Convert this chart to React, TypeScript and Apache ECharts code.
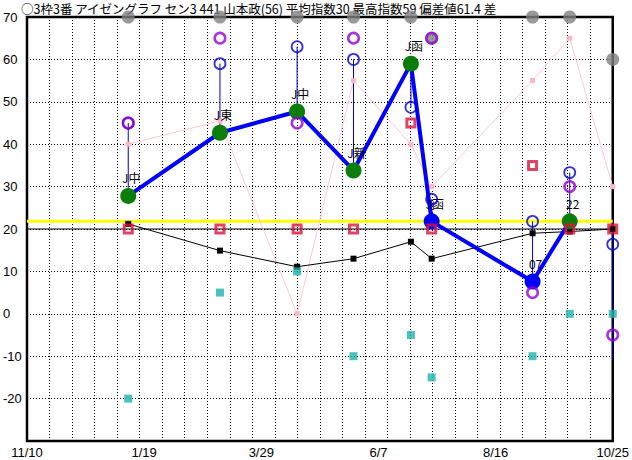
import React, { useEffect, useRef } from "react";
import * as echarts from "echarts";

const titleText = "○3枠3番 アイゼングラフ セン3 441 山本政(56) 平均指数30 最高指数59 偏差値61.4 差";
const dateTicks = ["11/10", "1/19", "3/29", "6/7", "8/16", "10/25"];
const tickStepDays = 70;
const totalDays = 350;
const gridDivisions = 26;
const yTicks = [-30, -20, -10, 0, 10, 20, 30, 40, 50, 60, 70];

const raceDays = [60.5, 115.3, 161.4, 195.1, 229.4, 241.8, 302.1, 324.3, 350];
const mainIndex: (number | null)[] = [27.8, 42.7, 47.7, 33.8, 59, 21.8, 7.6, 21.8, null];
const mainKinds = ["g", "g", "g", "g", "g", "b", "b", "g", ""];
const mainLabels = ["J中", "J東", "J中", "J新", "J函", "J函", "07", "22", ""];
const stemLow = [27.8, 42.7, 47.7, 33.8, 48.7, 21.8, 7.6, 21.8, -11];
const stemHigh = [45, 59, 63, 60, 59, 27, 21.8, 33.3, 20];
const blueRing = [45, 59, 63, 60, 48.7, 27, 21.8, 33.3, 16.4];
const purpleRing: (number | null)[] = [45, 65, 45, 65, null, 65, 5, 30, -5];
const grayDot = [70, 70, 70, 70, 70, 65, 70, 70, 60];
const pinkLine = [40, 45.5, 0, 55, 40, 30, 55, 65, 30];
const blackLine = [21.2, 14.9, 11.1, 13, 17, 13, 19, 19.4, 20];
const redSquare = [20, 20, 20, 20, 45, 20, 35, 20, 20];
const tealSquare = [-20, 5, 10, -10, -5, -15, -10, 0, 0];
const yellowRef = 21.8;
const baseRef = 20;

const pts = (vals: (number | null)[]) =>
  raceDays.map((d, i) => [d, vals[i] == null ? "-" : vals[i]]);

export default function App() {
  const ref = useRef<HTMLDivElement>(null);
  useEffect(() => {
    if (!ref.current) return;
    const chart = echarts.init(ref.current, undefined, { renderer: "svg" });
    const dotted = { color: "#000", width: 1, type: [1, 2] as any };
    chart.setOption({
      animation: false,
      backgroundColor: "#fff",
      title: {
        text: titleText,
        left: 21,
        top: 1,
        padding: 0,
        textStyle: {
          fontSize: 12.5,
          lineHeight: 14,
          fontWeight: "normal",
          color: "#000",
          fontFamily: "Noto Sans CJK JP",
        },
      },
      grid: {
        left: 26,
        right: 15,
        top: 17,
        bottom: 19,
        show: true,
        borderColor: "#000",
        borderWidth: 2.5,
        backgroundColor: "transparent",
      },
      xAxis: [
        {
          type: "value",
          min: 0,
          max: totalDays,
          interval: totalDays / gridDivisions,
          axisLine: { show: false },
          axisTick: { show: false },
          axisLabel: { show: false },
          splitLine: { show: true, lineStyle: dotted },
        },
        {
          type: "value",
          position: "bottom",
          min: 0,
          max: totalDays,
          interval: tickStepDays,
          axisLine: { show: false },
          axisTick: { show: false },
          splitLine: { show: false },
          axisLabel: {
            margin: 5,
            fontSize: 13,
            color: "#000",
            fontFamily: "Liberation Sans",
            formatter: (v: number) => dateTicks[Math.round(v / tickStepDays)] ?? "",
          },
        },
      ],
      yAxis: {
        type: "value",
        min: yTicks[0],
        max: yTicks[yTicks.length - 1],
        interval: 10,
        axisLine: { show: false },
        axisTick: { show: false },
        axisLabel: {
          align: "left",
          margin: 24,
          fontSize: 13,
          color: "#000",
          fontFamily: "Liberation Sans",
          formatter: (v: number) => (v === yTicks[0] ? "" : String(v)),
        },
        splitLine: { show: true, lineStyle: dotted },
      },
      series: [
        {
          type: "line",
          z: 1,
          silent: true,
          symbol: "none",
          data: [[0, baseRef], [totalDays, baseRef]],
          lineStyle: { color: "#000", width: 1 },
        },
        {
          type: "line",
          z: 2,
          silent: true,
          symbol: "none",
          data: [[0, yellowRef], [totalDays, yellowRef]],
          lineStyle: { color: "#ffff00", width: 3 },
        },
        {
          type: "custom",
          z: 3,
          silent: true,
          data: raceDays.map((d, i) => [d, stemLow[i], stemHigh[i]]),
          renderItem: (_p: any, api: any) => {
            const a = api.coord([api.value(0), api.value(1)]);
            const b = api.coord([api.value(0), api.value(2)]);
            return {
              type: "line",
              shape: { x1: a[0], y1: a[1], x2: b[0], y2: b[1] },
              style: { stroke: "#0000c0", lineWidth: 1 },
            };
          },
        },
        {
          type: "line",
          z: 4,
          data: pts(pinkLine),
          symbol: "rect",
          symbolSize: 5,
          itemStyle: { color: "#ffb6c1" },
          lineStyle: { color: "#ffc8d2", width: 1 },
        },
        {
          type: "line",
          z: 5,
          data: pts(blackLine),
          symbol: "rect",
          symbolSize: 6,
          itemStyle: { color: "#000" },
          lineStyle: { color: "#000", width: 1 },
        },
        {
          type: "line",
          z: 6,
          data: raceDays.map((d, i) => ({
            value: [d, mainIndex[i] == null ? "-" : mainIndex[i]],
            itemStyle: { color: mainKinds[i] === "b" ? "#0000ff" : "#0a7d0a" },
            label: { formatter: mainLabels[i] },
          })),
          symbol: "circle",
          symbolSize: 16,
          itemStyle: { color: "#0a7d0a" },
          lineStyle: { color: "#0000ff", width: 4 },
          label: {
            show: true,
            position: "top",
            distance: 4,
            offset: [3, 0],
            color: "#000",
            fontSize: 12,
            fontFamily: "Noto Sans CJK JP",
          },
        },
        {
          type: "scatter",
          z: 7,
          data: pts(redSquare),
          symbol: "rect",
          symbolSize: 8,
          itemStyle: { color: "rgba(0,0,0,0)", borderColor: "#dc143c", borderWidth: 3 },
        },
        {
          type: "scatter",
          z: 8,
          data: pts(tealSquare),
          symbol: "rect",
          symbolSize: 8,
          itemStyle: { color: "#20b2aa" },
        },
        {
          type: "scatter",
          z: 9,
          data: pts(grayDot),
          symbol: "circle",
          symbolSize: 13,
          itemStyle: { color: "#808080" },
        },
        {
          type: "scatter",
          z: 10,
          data: pts(blueRing),
          symbol: "circle",
          symbolSize: 11,
          itemStyle: { color: "rgba(0,0,0,0)", borderColor: "#0000cc", borderWidth: 1.8 },
        },
        {
          type: "scatter",
          z: 11,
          data: pts(purpleRing),
          symbol: "circle",
          symbolSize: 10.5,
          itemStyle: { color: "rgba(0,0,0,0)", borderColor: "#9400d3", borderWidth: 2.6 },
        },
      ],
    });
    return () => chart.dispose();
  }, []);
  return (
    <div
      ref={ref}
      style={{ position: "fixed", left: 0, top: 0, width: 632, height: 460, background: "#fff" }}
    />
  );
}
